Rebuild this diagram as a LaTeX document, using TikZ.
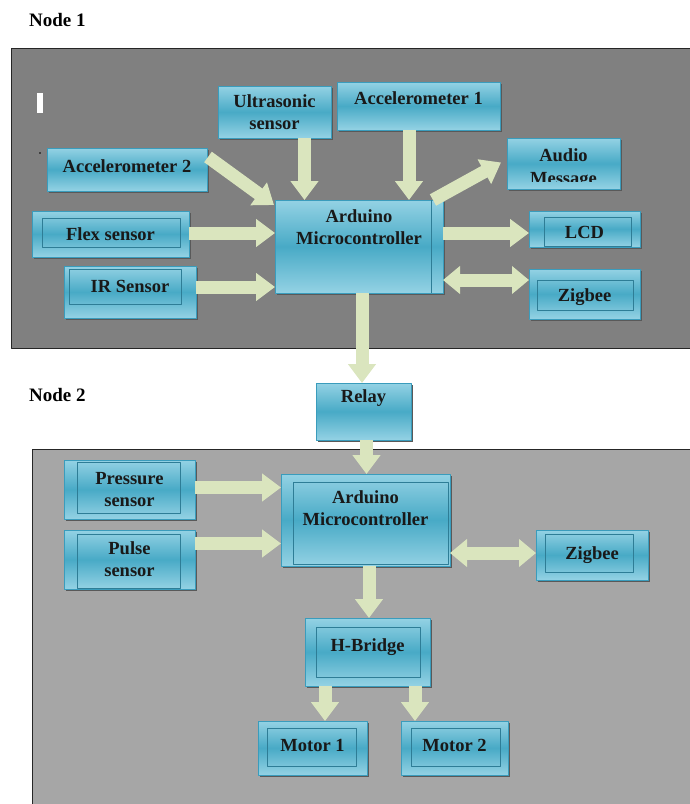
\documentclass[tikz,border=0pt]{standalone}
\usepackage{fontspec}
\setmainfont{Liberation Serif}
\usetikzlibrary{arrows.meta,shadows}

\definecolor{panelA}{RGB}{128,128,128}
\definecolor{panelB}{RGB}{166,166,166}
\definecolor{boxlight}{RGB}{148,210,228}
\definecolor{boxdark}{RGB}{72,170,198}
\definecolor{boxedge}{RGB}{58,156,188}
\definecolor{flowcol}{RGB}{218,229,190}

\tikzset{
  blk/.style={draw=boxedge, line width=1pt, top color=boxlight, bottom color=boxlight, middle color=boxdark,
    inner sep=0pt, outer sep=0pt, align=center, anchor=north west, text=black!90,
    font=\fontsize{18.5}{22}\selectfont\bfseries,
    drop shadow={shadow xshift=1.5pt, shadow yshift=-1.5pt, fill=black!65, opacity=1}},
  frame/.style={draw=boxedge!80!black, line width=1pt},
  flow/.style={draw=flowcol, line width=13pt, -{Triangle[length=19pt,width=27pt]}},
  flow2/.style={draw=flowcol, line width=13pt, {Triangle[length=17pt,width=27pt]}-{Triangle[length=17pt,width=27pt]}},
  lbl/.style={font=\fontsize{19}{22}\selectfont\bfseries, anchor=base west, inner sep=0pt}
}

\begin{document}
\begin{tikzpicture}[x=1pt,y=-1pt,line join=round]
\useasboundingbox (0,0) rectangle (689,804);

\node[lbl] (lab1) at (29,26) {Node 1};
\node[lbl] (lab2) at (29,401) {Node 2};

\filldraw[fill=panelA, draw=black!85, line width=1pt] (11,48) rectangle (700,348);
\filldraw[fill=panelB, draw=black!85, line width=1pt] (32,449) rectangle (700,815);
\fill[white] (37,93) rectangle (43,113);
\fill[black] (40,153) circle (0.8);

% node 1
\node[blk, minimum width=113, minimum height=52] (ultra) at (218,86) {Ultrasonic\\sensor};
\node[blk, minimum width=163, minimum height=48, text depth=15] (acc1) at (337,82) {Accelerometer 1};
\node[blk, minimum width=160, minimum height=43, text depth=6] (acc2) at (47,148) {Accelerometer 2};
\node[blk, minimum width=113, minimum height=51] (audio) at (507,138) {};
\begin{scope}
  \clip (audio.north west) rectangle ([yshift=7.5pt]audio.south east);
  \node[font=\fontsize{18.5}{23}\selectfont\bfseries, align=center, inner sep=0pt, anchor=north, text=black!90]
    (audiotxt) at ([yshift=-10pt]audio.north) {Audio\\Message};
\end{scope}
\node[blk, minimum width=157, minimum height=46] (flex) at (32,211) {Flex sensor};
\node[blk, minimum width=168, minimum height=93, text depth=39] (ard1) at (275,200) {Arduino\\Microcontroller};
\node[blk, minimum width=111, minimum height=36, text height=20] (lcd) at (529,211) {LCD};
\node[blk, minimum width=132, minimum height=52, text depth=12] (ir) at (64,266) {IR Sensor};
\node[blk, minimum width=111, minimum height=50, text height=19] (zig1) at (529,269) {Zigbee};
\node[blk, minimum width=95, minimum height=57, text depth=30] (relay) at (316,383) {Relay};

% node 2
\node[blk, minimum width=131, minimum height=59] (press) at (64,460) {Pressure\\sensor};
\node[blk, minimum width=131, minimum height=59] (pulse) at (64,530) {Pulse\\sensor};
\node[blk, minimum width=169, minimum height=92, text depth=23] (ard2) at (281,474) {Arduino\\Microcontroller};
\node[blk, minimum width=112, minimum height=50] (zig2) at (536,530) {Zigbee};
\node[blk, minimum width=125, minimum height=68, text depth=13] (hb) at (305,618) {H-Bridge};
\node[blk, minimum width=109, minimum height=54, text depth=6] (mot1) at (258,721) {Motor 1};
\node[blk, minimum width=107, minimum height=54, text depth=6] (mot2) at (401,721) {Motor 2};

\foreach \n/\l/\t/\r/\b in {flex/10/7/9/10, ir/5/3/15/14, lcd/15/6/9/1, zig1/8/11/7/9,
    press/13/2/15/6, pulse/13/4/15/1, ard2/12/8/2/2, zig2/9/4/15/8, hb/11/9/10/9,
    mot1/9/7/11/9, mot2/10/7/8/9}
  \draw[frame] ([shift={(\l,\t)}]\n.north west) rectangle ([shift={(-\r,-\b)}]\n.south east);
\draw[frame] ([xshift=-12pt]ard1.north east) -- ([xshift=-12pt]ard1.south east);

\draw[flow] ([shift={(1,9)}]acc2.north east) -- ([shift={(-1,5)}]ard1.north west);
\draw[flow] ([xshift=30pt]ultra.south) -- ([xshift=30pt]ultra.south |- ard1.north);
\draw[flow] ([xshift=-9.5pt]acc1.south) -- ([xshift=-9.5pt]acc1.south |- ard1.north);
\draw[flow] ([xshift=-10pt]ard1.north east) -- ([shift={(-6,-1)}]audio.west);
\draw[flow] ([yshift=1pt]flex.east) -- ([yshift=1pt]flex.east -| ard1.west);
\draw[flow] ([yshift=5pt]ir.east) -- ([yshift=5pt]ir.east -| ard1.west);
\draw[flow] ([yshift=-4pt]lcd.west -| ard1.east) -- ([yshift=-4pt]lcd.west);
\draw[flow2] ([yshift=14pt]zig1.west -| ard1.east) -- ([yshift=14pt]zig1.west);
\draw[flow] ([xshift=3pt]ard1.south) -- ([xshift=3pt]ard1.south |- relay.north);

\draw[flow] ([xshift=3pt]relay.south) -- ([xshift=3pt]relay.south |- ard2.north);
\draw[flow] ([yshift=2pt]press.east) -- ([yshift=2pt]press.east -| ard2.west);
\draw[flow] ([yshift=16pt]pulse.east) -- ([yshift=16pt]pulse.east -| ard2.west);
\draw[flow2] ([yshift=2pt]zig2.west -| ard2.east) -- ([yshift=2pt]zig2.west);
\draw[flow] ([xshift=3.5pt]ard2.south) -- ([xshift=3.5pt]ard2.south |- hb.north);
\draw[flow] ([xshift=12.5pt]mot1.north |- hb.south) -- ([xshift=12.5pt]mot1.north);
\draw[flow] ([xshift=-39.5pt]mot2.north |- hb.south) -- ([xshift=-39.5pt]mot2.north);
\end{tikzpicture}
\end{document}
